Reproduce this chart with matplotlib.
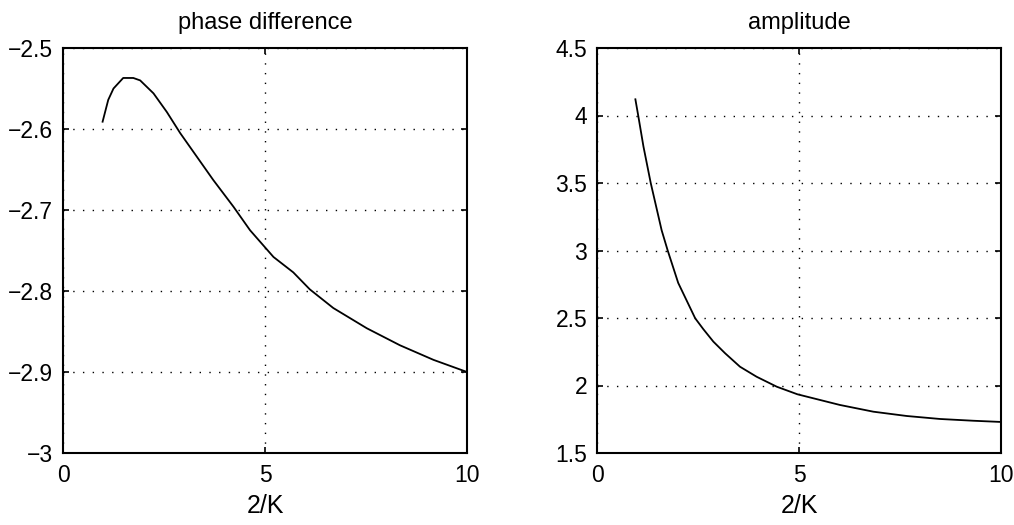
import matplotlib
matplotlib.use("Agg")
import matplotlib.pyplot as plt

plt.rcParams['font.family'] = ['Liberation Sans', 'DejaVu Sans']

# phase difference data
phase_x = [0.98, 1.12, 1.25, 1.49, 1.74, 1.91, 2.24, 2.57, 2.90, 3.31, 3.72,
           4.22, 4.63, 5.21, 5.70, 6.11, 6.69, 7.52, 8.34, 9.17, 10.0]
phase_y = [-2.591, -2.564, -2.550, -2.537, -2.537, -2.540, -2.556, -2.579,
           -2.605, -2.634, -2.663, -2.696, -2.725, -2.758, -2.777, -2.798,
           -2.821, -2.846, -2.867, -2.885, -2.900]

# amplitude data
amp_x = [0.95, 1.02, 1.15, 1.33, 1.60, 1.75, 2.01, 2.43, 2.63, 2.88,
         3.17, 3.54, 3.95, 4.45, 4.96, 6.01, 6.84, 7.67, 8.49, 9.31, 10.0]
amp_y = [4.12, 4.0, 3.77, 3.5, 3.15, 3.0, 2.76, 2.498, 2.418, 2.325,
         2.239, 2.139, 2.065, 1.991, 1.935, 1.856, 1.806, 1.774, 1.752,
         1.739, 1.730]

x_ticks = [0, 5, 10]
x_ticklabels = ['0', '5', '10']
phase_yticks = [-3.0, -2.9, -2.8, -2.7, -2.6, -2.5]
phase_yticklabels = ['\u22123', '\u22122.9', '\u22122.8', '\u22122.7', '\u22122.6', '\u22122.5']
amp_yticks = [1.5, 2.0, 2.5, 3.0, 3.5, 4.0, 4.5]
amp_yticklabels = ['1.5', '2', '2.5', '3', '3.5', '4', '4.5']

titles = ['phase difference', 'amplitude']
xlabel = '2/K'

fig = plt.figure(figsize=(10.14, 5.25), dpi=100)
ax1 = fig.add_axes([63/1014, (525-453)/525, 404/1014, 405/525])
ax2 = fig.add_axes([597/1014, (525-453)/525, 404/1014, 405/525])

specs = [
    (ax1, phase_x, phase_y, (-3.0, -2.5), phase_yticks, phase_yticklabels, titles[0]),
    (ax2, amp_x, amp_y, (1.5, 4.5), amp_yticks, amp_yticklabels, titles[1]),
]

for ax, xs, ys, ylim, yt, ytl, title in specs:
    ax.plot(xs, ys, color='black', linewidth=1.3)
    ax.set_xlim(0, 10)
    ax.set_ylim(*ylim)
    ax.set_xticks(x_ticks)
    ax.set_xticklabels(x_ticklabels)
    ax.set_yticks(yt)
    ax.set_yticklabels(ytl)
    ax.grid(True, color='black', linestyle=(0, (1, 6)), linewidth=1.0)
    ax.tick_params(direction='in', length=4, width=1.2, top=True, right=True,
                   labelsize=16.5, colors='black')
    ax.tick_params(axis='x', pad=8)
    ax.tick_params(axis='y', pad=7)
    for s in ax.spines.values():
        s.set_linewidth(1.5)
        s.set_color('black')
    ax.set_title(title, fontsize=17, pad=14)
    ax.set_xlabel(xlabel, fontsize=18, labelpad=5)

fig.savefig('out.png', dpi=100)
